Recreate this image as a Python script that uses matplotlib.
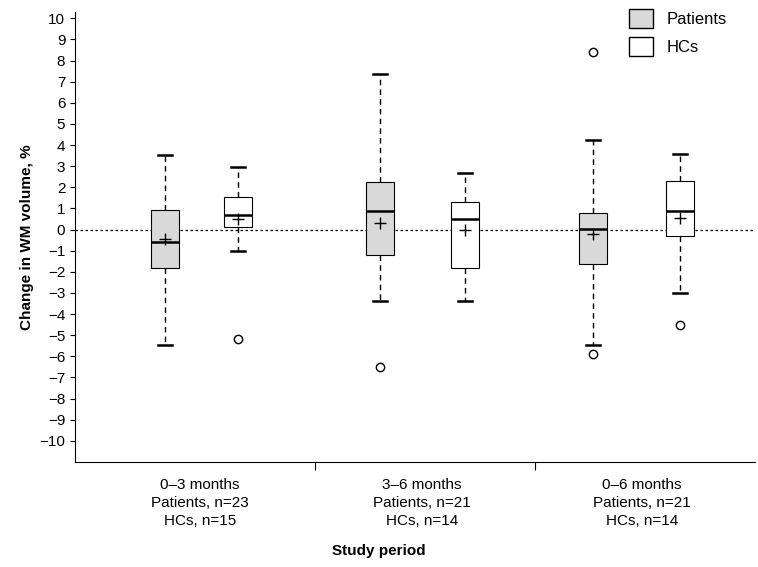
import matplotlib.pyplot as plt
from matplotlib.patches import Patch

plt.rcParams['font.family'] = ['Liberation Sans', 'DejaVu Sans']

periods = ["0\u20133 months\nPatients, n=23\nHCs, n=15",
           "3\u20136 months\nPatients, n=21\nHCs, n=14",
           "0\u20136 months\nPatients, n=21\nHCs, n=14"]
groups = ["Patients", "HCs", "Patients", "HCs", "Patients", "HCs"]
whislo = [-5.45, -1.0, -3.4, -3.4, -5.45, -3.0]
q1 = [-1.8, 0.1, -1.2, -1.8, -1.65, -0.3]
med = [-0.6, 0.7, 0.9, 0.5, 0.05, 0.9]
q3 = [0.95, 1.52, 2.25, 1.3, 0.8, 2.3]
whishi = [3.55, 2.95, 7.35, 2.7, 4.25, 3.6]
means = [-0.45, 0.5, 0.3, 0.0, -0.2, 0.55]
fliers = [[], [-5.2], [-6.5], [], [-5.9, 8.4], [-4.5]]

positions = [1.65, 2.38, 3.80, 4.65, 5.93, 6.80]
colors = {"Patients": "#d9d9d9", "HCs": "white"}

fig = plt.figure(figsize=(7.58, 5.67), dpi=100)
ax = fig.add_axes([75 / 758, 105 / 567, 680 / 758, 450 / 567])

stats = []
for i in range(6):
    stats.append(dict(whislo=whislo[i], q1=q1[i], med=med[i], q3=q3[i],
                      whishi=whishi[i], mean=means[i], fliers=fliers[i]))
bp = ax.bxp(stats, positions=positions, widths=0.28, showmeans=True,
            patch_artist=True,
            boxprops=dict(edgecolor="black", linewidth=0.8),
            medianprops=dict(color="black", linewidth=1.8),
            whiskerprops=dict(linestyle=(0, (4, 3)), linewidth=1.0),
            capprops=dict(linewidth=1.8),
            capwidths=0.14,
            meanprops=dict(marker="+", markeredgecolor="black", markersize=8),
            flierprops=dict(marker="o", markerfacecolor="white",
                            markeredgecolor="black", markersize=6))
for patch, g in zip(bp["boxes"], groups):
    patch.set_facecolor(colors[g])

ax.axhline(0, color="black", linestyle=(0, (2, 2)), linewidth=0.9, zorder=0)

ax.set_xlim(0.75, 7.55)
ax.set_ylim(-11, 10.3)
ax.set_yticks(range(-10, 11))
ax.set_yticklabels([str(v).replace("-", "\u2212") for v in range(-10, 11)], fontsize=11)
ax.set_xticks([3.15, 5.35])
ax.set_xticklabels([])
ax.tick_params(axis="x", length=6, direction="out")
for x, lab in zip([2.0, 4.22, 6.42], periods):
    ax.text(x, -11.75, lab, ha="center", va="top", fontsize=11, linespacing=1.35)
for s in ["top", "right"]:
    ax.spines[s].set_visible(False)

ax.set_ylabel("Change in WM volume, %", fontsize=11, fontweight="bold")
fig.text(0.5, 0.022, "Study period", ha="center", fontsize=11, fontweight="bold")

handles = [Patch(facecolor=colors["Patients"], edgecolor="black", label="Patients"),
           Patch(facecolor="white", edgecolor="black", label="HCs")]
ax.legend(handles=handles, loc="upper right", bbox_to_anchor=(0.98, 1.04),
          frameon=False, fontsize=12, handlelength=1.4, handleheight=1.4)

fig.savefig("out.png", dpi=100)
